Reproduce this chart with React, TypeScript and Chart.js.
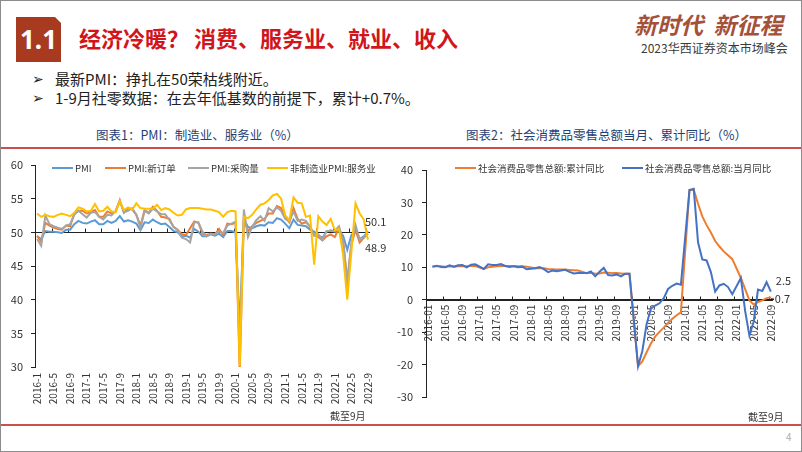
import React, { useEffect, useRef } from 'react';
import { Chart, registerables } from 'chart.js';

Chart.register(...registerables);

const FONT = "'Noto Sans CJK SC', 'Noto Sans', sans-serif";

// ---------- categories ----------
const years = [2016, 2017, 2018, 2019, 2020, 2021, 2022];
const lastMonth2022 = 9;
const pmiLabels: string[] = [];
const retailLabels: string[] = [];
for (const y of years) {
  const end = y === 2022 ? lastMonth2022 : 12;
  for (let m = 1; m <= end; m++) {
    pmiLabels.push(`${y}-${m}`);
    retailLabels.push(`${y}-${m < 10 ? '0' + m : m}`);
  }
}

// ---------- chart 1: PMI ----------
const pmi = [
  49.4, 49.0, 50.2, 50.1, 50.1, 50.0, 49.9, 50.4, 50.4, 51.2, 51.7, 51.4,
  51.3, 51.6, 51.8, 51.2, 51.2, 51.7, 51.4, 51.7, 52.4, 51.6, 51.8, 51.6,
  51.3, 50.3, 51.5, 51.4, 51.9, 51.5, 51.2, 51.3, 50.8, 50.2, 50.0, 49.4,
  49.5, 49.2, 50.5, 50.1, 49.4, 49.4, 49.7, 49.5, 49.8, 49.3, 50.2, 50.2,
  50.0, 35.7, 52.0, 50.8, 50.6, 50.9, 51.1, 51.0, 51.5, 51.4, 52.1, 51.9,
  51.3, 50.6, 51.9, 51.1, 51.0, 50.9, 50.4, 50.1, 49.6, 49.2, 50.1, 50.3,
  50.1, 50.2, 49.5, 47.4, 49.6, 50.2, 49.0, 49.4, 50.1,
];
const pmiNewOrders = [
  49.5, 48.6, 51.4, 51.0, 50.7, 50.5, 50.4, 51.0, 50.9, 52.8, 53.2, 53.2,
  52.8, 53.0, 53.3, 52.3, 52.3, 53.1, 52.8, 53.1, 54.8, 52.9, 53.6, 53.4,
  52.6, 51.0, 53.3, 52.9, 53.8, 53.2, 52.3, 52.2, 52.0, 50.8, 50.4, 49.7,
  49.6, 50.6, 51.6, 51.4, 49.8, 49.6, 49.8, 49.7, 50.5, 49.6, 51.3, 51.2,
  51.4, 29.3, 52.0, 50.2, 50.9, 51.4, 51.7, 52.0, 52.8, 52.8, 53.9, 53.6,
  52.3, 51.5, 53.6, 52.0, 51.3, 51.5, 50.9, 49.6, 49.3, 48.8, 49.4, 49.7,
  49.3, 50.7, 48.8, 42.6, 48.2, 50.4, 48.5, 49.2, 49.8,
];
const pmiPurchase = [
  49.0, 48.0, 52.5, 51.2, 50.9, 50.7, 50.5, 51.0, 51.2, 52.6, 53.2, 52.7,
  52.2, 52.9, 53.0, 52.3, 51.9, 52.6, 52.5, 53.2, 54.6, 53.0, 53.2, 53.6,
  52.6, 50.6, 53.2, 52.8, 53.5, 53.1, 52.7, 52.7, 51.8, 50.8, 50.3, 49.2,
  49.0, 48.5, 51.5, 51.5, 50.1, 49.4, 49.8, 49.7, 50.1, 49.9, 51.0, 51.3,
  51.6, 33.0, 53.4, 49.3, 50.8, 51.8, 52.4, 51.7, 53.6, 53.1, 53.7, 53.2,
  52.0, 51.6, 53.1, 51.7, 51.9, 51.7, 50.8, 49.5, 49.7, 48.9, 50.2, 50.2,
  50.2, 50.9, 48.7, 42.8, 48.4, 51.1, 48.9, 49.2, 50.2,
];
const servicesPmi = [
  52.8, 52.3, 52.6, 52.4, 52.3, 52.6, 52.8, 52.6, 52.4, 52.9, 53.7, 53.5,
  53.1, 53.2, 54.2, 53.1, 53.2, 53.8, 53.1, 53.0, 54.6, 53.3, 53.7, 53.4,
  54.3, 53.6, 53.5, 53.5, 53.5, 54.1, 53.3, 53.6, 53.4, 52.9, 52.5, 52.6,
  53.4, 53.6, 53.6, 53.6, 53.5, 53.4, 53.4, 53.2, 53.0, 52.3, 53.0, 53.2,
  53.1, 30.1, 52.3, 52.1, 52.6, 53.4, 54.1, 54.3, 54.8, 55.5, 55.7, 55.0,
  52.5, 51.8, 55.2, 54.4, 54.3, 52.3, 52.5, 45.2, 52.4, 51.6, 51.1, 52.0,
  50.3, 50.5, 46.7, 40.0, 47.1, 54.3, 52.8, 51.9, 48.9,
];
const pmiSeriesNames = ['PMI', 'PMI:新订单', 'PMI:采购量', '非制造业PMI:服务业'];
const pmiColors = ['#5B9BD5', '#ED7D31', '#A5A5A5', '#FFC000'];
const pmiTicks = { min: 30, max: 60, step: 5 };

// ---------- chart 2: retail sales ----------
const retailCumulative = [
  null, 10.2, 10.3, 10.3, 10.2, 10.3, 10.2, 10.3, 10.4, 10.3, 10.4, 10.4,
  null, 9.5, 10.0, 10.2, 10.3, 10.4, 10.4, 10.4, 10.4, 10.3, 10.3, 10.2,
  null, 9.7, 9.8, 9.7, 9.5, 9.4, 9.3, 9.3, 9.3, 9.2, 9.1, 9.0,
  null, 8.2, 8.3, 8.0, 8.1, 8.4, 8.3, 8.2, 8.2, 8.1, 8.0, 8.0,
  null, -20.5, -19.0, -16.2, -13.5, -11.4, -9.9, -8.6, -7.2, -5.9, -4.8, -3.9,
  null, 33.8, 33.9, 29.6, 25.7, 23.0, 20.7, 18.1, 16.4, 14.9, 13.7, 12.5,
  null, 6.7, 3.3, -0.2, -1.5, -0.7, -0.2, 0.5, 0.7,
];
const retailMonthly = [
  null, 10.2, 10.5, 10.1, 10.0, 10.6, 10.2, 10.6, 10.7, 10.0, 10.8, 10.9,
  null, 9.5, 10.9, 10.7, 10.7, 11.0, 10.4, 10.1, 10.3, 10.0, 10.2, 9.4,
  null, 9.7, 10.1, 9.4, 8.5, 9.0, 8.8, 9.0, 9.2, 8.6, 8.1, 8.2,
  null, 8.2, 8.7, 7.2, 8.6, 9.8, 7.6, 7.5, 7.8, 7.2, 8.0, 8.0,
  null, -20.5, -15.8, -7.5, -2.8, -1.8, -1.1, 0.5, 3.3, 4.3, 5.0, 4.6,
  null, 33.8, 34.2, 17.7, 12.4, 12.1, 8.5, 2.5, 4.4, 4.9, 3.9, 1.7,
  null, 6.7, -3.5, -11.1, -6.7, 3.1, 2.7, 5.4, 2.5,
];
const retailSeriesNames = ['社会消费品零售总额:累计同比', '社会消费品零售总额:当月同比'];
const retailColors = ['#ED7D31', '#4472C4'];
const retailTicks = { min: -30, max: 40, step: 10 };

// ---------- plugins ----------
function axisLinePlugin(value: number, every: number) {
  return {
    id: 'axisLine' + value,
    beforeDatasetsDraw(chart: any) {
      const { ctx, chartArea, scales } = chart;
      const x = scales.x;
      const y = scales.y;
      const py = Math.round(y.getPixelForValue(value)) + 0.5;
      const half = (x.getPixelForValue(1) - x.getPixelForValue(0)) / 2;
      ctx.save();
      ctx.strokeStyle = '#222';
      ctx.lineWidth = 1;
      ctx.beginPath();
      ctx.moveTo(chartArea.left, py);
      ctx.lineTo(chartArea.right, py);
      const n = x.getLabels().length;
      for (let i = 0; i <= n; i += every) {
        const px = Math.round(x.getPixelForValue(i) - half) + 0.5;
        ctx.moveTo(px, py);
        ctx.lineTo(px, py - 4);
      }
      ctx.stroke();
      ctx.restore();
    },
  };
}

type EndLabel = { ds: number; text: string; dx: number; dy: number; leader?: boolean };
function endLabelsPlugin(items: EndLabel[]) {
  return {
    id: 'endLabels',
    afterDatasetsDraw(chart: any) {
      const ctx = chart.ctx;
      ctx.save();
      ctx.font = `11px ${FONT}`;
      ctx.fillStyle = '#333';
      ctx.textBaseline = 'middle';
      ctx.textAlign = 'left';
      for (const it of items) {
        const pts = chart.getDatasetMeta(it.ds).data;
        const p = pts[pts.length - 1];
        if (it.leader) {
          ctx.strokeStyle = '#666';
          ctx.lineWidth = 1;
          ctx.beginPath();
          ctx.moveTo(p.x, p.y + it.dy);
          ctx.lineTo(p.x + it.dx - 1, p.y + it.dy);
          ctx.stroke();
        }
        ctx.fillText(it.text, p.x + it.dx, p.y + it.dy);
      }
      ctx.restore();
    },
  };
}

const tickFont = { family: FONT, size: 10 };

function PmiChart() {
  const ref = useRef<HTMLCanvasElement>(null);
  useEffect(() => {
    const series = [pmi, pmiNewOrders, pmiPurchase, servicesPmi];
    const chart = new Chart(ref.current as HTMLCanvasElement, {
      type: 'line',
      data: {
        labels: pmiLabels,
        datasets: series.map((d, i) => ({
          label: pmiSeriesNames[i],
          data: d,
          borderColor: pmiColors[i],
          backgroundColor: pmiColors[i],
          order: 4 - i,
        })),
      },
      options: {
        responsive: false,
        animation: false,
        devicePixelRatio: 1,
        events: [],
        layout: { padding: { left: 0, top: 15, right: 30, bottom: 0 } },
        elements: { point: { radius: 0 }, line: { borderWidth: 2, tension: 0 } },
        plugins: { legend: { display: false }, tooltip: { enabled: false } },
        scales: {
          x: {
            offset: true,
            grid: { display: false, drawTicks: false },
            border: { display: false },
            ticks: {
              autoSkip: false,
              maxRotation: 90,
              minRotation: 90,
              padding: 6,
              color: '#333',
              font: tickFont,
              callback: (_v: any, i: number) => (i % 4 === 0 ? pmiLabels[i] : ''),
            },
            afterFit: (s: any) => { s.height = 58; },
          },
          y: {
            min: pmiTicks.min,
            max: pmiTicks.max,
            ticks: { stepSize: pmiTicks.step, padding: 8, color: '#333', font: { family: FONT, size: 11 } },
            grid: { drawOnChartArea: false, drawTicks: true, tickLength: 4, color: '#222' },
            border: { display: true, color: '#222' },
            afterFit: (s: any) => { s.width = 35; },
          },
        },
      } as any,
      plugins: [
        axisLinePlugin(50, 4),
        endLabelsPlugin([
          { ds: 0, text: pmi[pmi.length - 1].toFixed(1), dx: -3, dy: -10 },
          { ds: 3, text: servicesPmi[servicesPmi.length - 1].toFixed(1), dx: -3, dy: 8 },
        ]),
      ],
    });
    return () => chart.destroy();
  }, []);
  return (
    <canvas ref={ref} width={400} height={275} style={{ position: 'absolute', left: 0, top: 150 }} />
  );
}

function RetailChart() {
  const ref = useRef<HTMLCanvasElement>(null);
  useEffect(() => {
    const series = [retailCumulative, retailMonthly];
    const chart = new Chart(ref.current as HTMLCanvasElement, {
      type: 'line',
      data: {
        labels: retailLabels,
        datasets: series.map((d, i) => ({
          label: retailSeriesNames[i],
          data: d,
          borderColor: retailColors[i],
          backgroundColor: retailColors[i],
          spanGaps: true,
          order: 2 - i,
        })),
      },
      options: {
        responsive: false,
        animation: false,
        devicePixelRatio: 1,
        events: [],
        layout: { padding: { left: 0, top: 20, right: 29, bottom: 28 } },
        elements: { point: { radius: 0 }, line: { borderWidth: 2, tension: 0 } },
        plugins: { legend: { display: false }, tooltip: { enabled: false } },
        scales: {
          x: {
            position: { y: 0 },
            offset: true,
            grid: { display: false, drawTicks: false },
            border: { display: true, color: '#222' },
            ticks: {
              autoSkip: false,
              maxRotation: 90,
              minRotation: 90,
              padding: 5,
              color: '#333',
              font: tickFont,
              callback: (_v: any, i: number) => (i % 4 === 0 ? retailLabels[i] : ''),
            },
          },
          y: {
            min: retailTicks.min,
            max: retailTicks.max,
            ticks: { stepSize: retailTicks.step, padding: 9, color: '#333', font: { family: FONT, size: 11 } },
            grid: { drawOnChartArea: false, drawTicks: true, tickLength: 4, color: '#222' },
            border: { display: true, color: '#222' },
            afterFit: (s: any) => { s.width = 30; },
          },
        },
      } as any,
      plugins: [
        axisLinePlugin(0, 4),
        endLabelsPlugin([
          { ds: 1, text: String(retailMonthly[retailMonthly.length - 1]), dx: 5, dy: -11 },
          { ds: 0, text: String(retailCumulative[retailCumulative.length - 1]), dx: 4, dy: 1, leader: true },
        ]),
      ],
    });
    return () => chart.destroy();
  }, []);
  return (
    <canvas ref={ref} width={406} height={275} style={{ position: 'absolute', left: 396, top: 150 }} />
  );
}

function Legend({ names, colors, xs, y }: { names: string[]; colors: string[]; xs: number[]; y: number }) {
  return (
    <>
      {names.map((n, i) => (
        <div
          key={n}
          style={{
            position: 'absolute', left: xs[i], top: y - 7, height: 14, display: 'flex',
            alignItems: 'center', whiteSpace: 'nowrap', fontSize: 9.5, color: '#333',
          }}
        >
          <span style={{ display: 'inline-block', width: 21, height: 2, background: colors[i], marginRight: 2 }} />
          <span>{n}</span>
        </div>
      ))}
    </>
  );
}

const abs = (o: React.CSSProperties): React.CSSProperties => ({ position: 'absolute', whiteSpace: 'nowrap', ...o });

export default function App() {
  useEffect(() => {
    document.body.style.margin = '0';
  }, []);
  return (
    <div
      style={{
        position: 'absolute', left: 0, top: 0, width: 802, height: 452, background: '#fff',
        overflow: 'hidden', fontFamily: FONT,
      }}
    >
      {/* header */}
      <div
        style={abs({
          left: 16, top: 17, width: 45, height: 45, background: '#A83B1F',
          clipPath: 'polygon(0 0, calc(100% - 6px) 0, 100% 6px, 100% 100%, 0 100%)',
          color: '#fff', fontWeight: 700, fontSize: 26, lineHeight: '45px', textAlign: 'center',
          fontFamily: "'Noto Sans', 'Open Sans', sans-serif",
        })}
      >
        1.1
      </div>
      <div style={abs({ left: 79, top: 22, fontSize: 22, lineHeight: '30px', fontWeight: 700, color: '#D0161C' })}>
        经济冷暖？ 消费、服务业、就业、收入
      </div>
      <div
        style={abs({
          left: 634, top: 9, fontSize: 23, lineHeight: '30px', fontWeight: 700, color: '#A4513A',
          fontStyle: 'italic', letterSpacing: 0,
        })}
      >
        新时代&nbsp;&nbsp;新征程
      </div>
      <div style={abs({ left: 641, top: 40, fontSize: 12, lineHeight: '16px', color: '#3a3a3a' })}>
        2023华西证券资本市场峰会
      </div>

      {/* bullets */}
      <div style={abs({ left: 32, top: 69, fontSize: 14, lineHeight: '20px', fontFamily: "'DejaVu Sans', sans-serif", color: '#222' })}>➢</div>
      <div style={abs({ left: 55, top: 69, fontSize: 15, lineHeight: '20px', color: '#222' })}>
        最新PMI：挣扎在50荣枯线附近。
      </div>
      <div style={abs({ left: 32, top: 88, fontSize: 14, lineHeight: '20px', fontFamily: "'DejaVu Sans', sans-serif", color: '#222' })}>➢</div>
      <div style={abs({ left: 55, top: 88, fontSize: 15, lineHeight: '20px', color: '#222' })}>
        1-9月社零数据：在去年低基数的前提下，累计+0.7%。
      </div>

      {/* chart titles */}
      <div style={abs({ left: 96, top: 126, fontSize: 12.5, lineHeight: '18px', color: '#1F3F77' })}>
        图表1：PMI：制造业、服务业（%）
      </div>
      <div style={abs({ left: 466, top: 126, fontSize: 12.5, lineHeight: '18px', color: '#1F3F77' })}>
        图表2：社会消费品零售总额当月、累计同比（%）
      </div>

      {/* separators */}
      <div style={abs({ left: 0, top: 147, width: 802, height: 2, background: '#C9504E' })} />
      <div style={abs({ left: 0, top: 424, width: 802, height: 2, background: '#C9504E' })} />

      <PmiChart />
      <RetailChart />

      <Legend names={pmiSeriesNames} colors={pmiColors} xs={[52, 105, 188, 267]} y={168} />
      <Legend names={retailSeriesNames} colors={retailColors} xs={[455, 622]} y={168} />

      <div style={abs({ left: 330, top: 408, fontSize: 10, lineHeight: '16px', color: '#333' })}>截至9月</div>
      <div style={abs({ left: 748, top: 409, fontSize: 10, lineHeight: '16px', color: '#333' })}>截至9月</div>
      <div style={abs({ left: 786, top: 430, fontSize: 10, lineHeight: '14px', color: '#aaa' })}>4</div>

      {/* slide border */}
      <div style={abs({ left: 0, top: 0, width: 802, height: 452, boxSizing: 'border-box', border: '1px solid #8c8c8c', pointerEvents: 'none' })} />
    </div>
  );
}
